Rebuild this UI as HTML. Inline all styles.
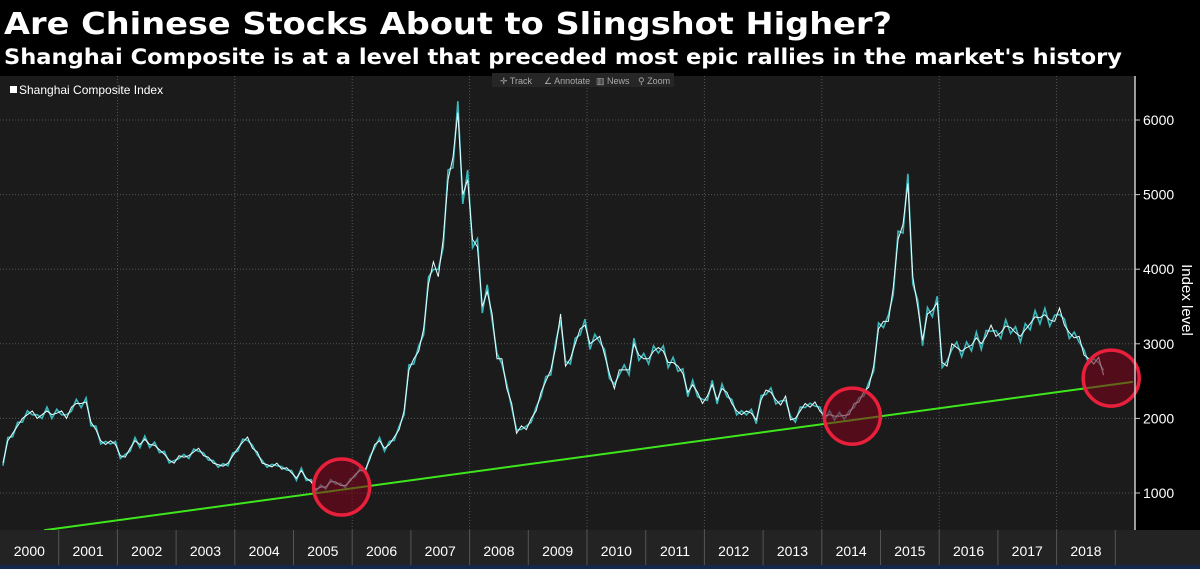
<!DOCTYPE html>
<html><head><meta charset="utf-8"><style>
html,body{margin:0;padding:0;background:#000;width:1200px;height:569px;overflow:hidden}
svg{display:block}
text{font-family:"Liberation Sans",sans-serif}
</style></head><body>
<svg id="c" width="1200" height="569" xmlns="http://www.w3.org/2000/svg">
<rect x="0" y="0" width="1200" height="569" fill="#000"/>
<text x="4" y="34" fill="#fff" font-weight="bold" font-size="30" textLength="888" lengthAdjust="spacingAndGlyphs" style="font-family:'DejaVu Sans',sans-serif">Are Chinese Stocks About to Slingshot Higher?</text>
<text x="4" y="64" fill="#fff" font-weight="bold" font-size="21" textLength="1118" lengthAdjust="spacingAndGlyphs" style="font-family:'DejaVu Sans',sans-serif">Shanghai Composite is at a level that preceded most epic rallies in the market's history</text>
<rect x="0" y="76" width="1135" height="454" fill="#1b1b1b"/>
<g id="grid"></g>
<g id="toolbar">
<rect x="492" y="73" width="182" height="14" fill="#262626"/>
<text x="500" y="84" fill="#aaa" font-size="9">✛ Track</text>
<text x="544" y="84" fill="#aaa" font-size="9">∠ Annotate</text>
<text x="596" y="84" fill="#aaa" font-size="9">▥ News</text>
<text x="638" y="84" fill="#aaa" font-size="9">⚲ Zoom</text>
</g>
<rect x="10" y="86" width="7" height="7" fill="#fff"/>
<text x="19" y="94" fill="#fff" font-size="12">Shanghai Composite Index</text>
<g id="series"></g>
<g id="overlay"></g>
<line x1="1135" y1="76" x2="1135" y2="530" stroke="#ccc" stroke-width="1.5"/>
<g id="yaxis"></g>
<text transform="translate(1182,300) rotate(90)" fill="#fff" font-size="15" text-anchor="middle">Index level</text>
<rect x="0" y="530" width="1200" height="36" fill="#232323"/>
<rect x="0" y="565" width="1200" height="4" fill="#13284a"/>
<g id="xaxis"></g>
</svg>
<script>
const years=[2000,2001,2002,2003,2004,2005,2006,2007,2008,2009,2010,2011,2012,2013,2014,2015,2016,2017,2018];
const yTicks=[1000,2000,3000,4000,5000,6000];
const monthly=[
1400,1700,1800,1900,2000,2050,2100,2000,2050,2100,2050,2070,
2100,2000,2150,2200,2200,2220,1950,1850,1700,1650,1700,1650,
1500,1480,1600,1700,1650,1720,1650,1640,1580,1520,1440,1400,
1500,1480,1500,1550,1600,1500,1480,1400,1380,1360,1400,1500,
1600,1680,1750,1600,1550,1400,1380,1350,1400,1320,1340,1270,
1200,1300,1200,1150,1050,1080,1080,1150,1150,1100,1100,1160,
1250,1300,1300,1450,1650,1700,1600,1650,1750,1850,2100,2650,
2800,2900,3200,3800,4100,3900,4400,5200,5500,6100,5000,5200,
4400,4300,3500,3700,3400,2800,2800,2400,2200,1800,1900,1850,
2000,2100,2350,2500,2650,2950,3400,2700,2800,3000,3200,3250,
3000,3050,3100,2850,2600,2400,2650,2650,2650,3000,2850,2800,
2800,2900,2950,2900,2750,2750,2700,2600,2350,2450,2350,2200,
2300,2450,2250,2400,2350,2200,2100,2050,2100,2070,1980,2250,
2380,2350,2250,2180,2300,1980,2000,2100,2200,2150,2220,2100,
2030,2050,2030,2030,2040,2050,2200,2220,2360,2420,2700,3200,
3300,3300,3750,4400,4600,5150,3900,3500,3050,3400,3450,3550,
2750,2700,3000,2950,2900,2950,2980,3080,3000,3100,3250,3100,
3150,3240,3220,3150,3100,3190,3270,3360,3350,3390,3320,3300,
3480,3250,3150,3080,3100,2850,2800,2730,2820,2580];
const trendStart=[2000.75,500];
const trendEnd=[2019.3,2490];
const circles=[[2005.82,1080],[2014.52,2030],[2018.93,2540]];
const NS='http://www.w3.org/2000/svg';
const x=t=>(t-2000)*58.7;
const y=v=>493-(v-1000)*0.0746;
function mk(tag,at,parent){const e=document.createElementNS(NS,tag);for(const k in at)e.setAttribute(k,at[k]);document.getElementById(parent).appendChild(e);return e;}
yTicks.forEach(v=>{const l=mk('line',{x1:0,x2:1135,y1:y(v),y2:y(v),stroke:'#555','stroke-dasharray':'1,2'},'grid');

});
for(let yr=2002;yr<=2018;yr+=2){const l=mk('line',{x1:x(yr),x2:x(yr),y1:76,y2:530,stroke:'#555','stroke-dasharray':'1,2'},'grid');

}
let pts=monthly.map((v,i)=>x(2000+i/12+0.05)+','+y(v)).join(' ');
let wig=monthly.map((v,i)=>x(2000+i/12+0.05)+','+y(v*(i%2?1.025:0.975))).join(' ');
const p1=mk('polyline',{points:wig,fill:'none',stroke:'#3bb8bc','stroke-width':1.6},'series');


const p2=mk('polyline',{points:pts,fill:'none',stroke:'#e6ffff','stroke-width':1},'series');


const tl=mk('line',{x1:x(trendStart[0]),y1:y(trendStart[1]),x2:x(trendEnd[0]),y2:y(trendEnd[1]),stroke:'#3fe61e','stroke-width':2},'overlay');


circles.forEach(c=>{const e=mk('circle',{cx:x(c[0]),cy:y(c[1]),r:28,fill:'rgba(130,0,25,0.55)',stroke:'#e8203c','stroke-width':3.5},'overlay');

});
yTicks.forEach(v=>{mk('line',{x1:1135,x2:1140,y1:y(v),y2:y(v),stroke:'#ccc'},'yaxis');
const t=mk('text',{x:1143,y:y(v)+5,fill:'#fff','font-size':14},'yaxis');t.textContent=v;

});
years.forEach(yr=>{const t=mk('text',{x:x(yr+0.5),y:556,fill:'#fff','font-size':14,'text-anchor':'middle'},'xaxis');t.textContent=yr;


const s=mk('line',{x1:x(yr+1),x2:x(yr+1),y1:530,y2:565,stroke:'#555'},'xaxis');

});
</script>
</body></html>
